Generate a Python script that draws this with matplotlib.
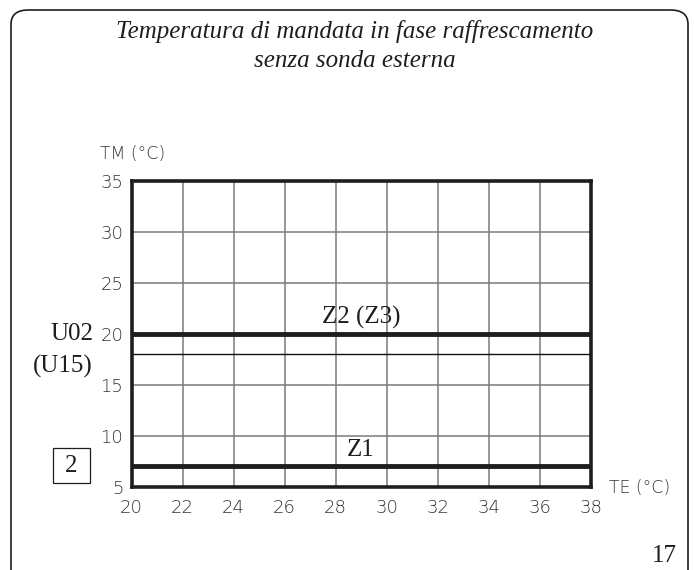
import matplotlib.pyplot as plt
from matplotlib.patches import FancyBboxPatch, Rectangle

# data
te_ticks = [20, 22, 24, 26, 28, 30, 32, 34, 36, 38]
tm_ticks = [5, 10, 15, 20, 25, 30, 35]
te_range = [20, 38]
z1_tm = [7, 7]
z2_tm = [20, 20]
ref_line_tm = 18

serif = 'Liberation Serif'
sans = 'DejaVu Sans'
tick_color = '#333333'
ink = '#1e1e1e'

fig = plt.figure(figsize=(6.94, 5.70), dpi=100)

# page frame with rounded corners (bottom runs off the page)
frame = FancyBboxPatch((11 / 694, -0.05), (688 - 11) / 694, 1 - 10 / 570 + 0.05,
                       boxstyle='round,pad=0,rounding_size=0.025',
                       transform=fig.transFigure, fill=False, lw=1.2, ec=ink)
fig.add_artist(frame)

fig.text(0.511, 0.945, 'Temperatura di mandata in fase raffrescamento', ha='center', va='center',
         fontsize=18, family=serif, style='italic', color=ink)
fig.text(0.511, 0.893, 'senza sonda esterna', ha='center', va='center',
         fontsize=18, family=serif, style='italic', color=ink)

ax = fig.add_axes([131.5 / 694, 1 - 486.7 / 570, (590.7 - 131.5) / 694, (486.7 - 180.7) / 570])
ax.set_xlim(te_range)
ax.set_ylim(5, 35)
ax.set_xticks(te_ticks)
ax.set_yticks(tm_ticks)
ax.tick_params(axis='both', length=0, labelsize=13, labelcolor=tick_color)
ax.tick_params(axis='x', pad=9)
ax.tick_params(axis='y', pad=6)
for lab in ax.get_xticklabels() + ax.get_yticklabels():
    lab.set_fontweight('light')
    lab.set_family(sans)

# grid
for x in te_ticks[1:-1]:
    ax.axvline(x, color='#7a7a7a', lw=1.1, zorder=1)
for y in tm_ticks[1:-1]:
    ax.axhline(y, color='#7a7a7a', lw=1.1, zorder=1)
ax.axhline(ref_line_tm, color='#111111', lw=1.0, zorder=2)

ax.plot(te_range, z2_tm, color=ink, lw=3.5, solid_capstyle='butt', zorder=3)
ax.plot(te_range, z1_tm, color=ink, lw=3.5, solid_capstyle='butt', zorder=3)

for s in ax.spines.values():
    s.set_linewidth(2.6)
    s.set_color(ink)

ax.text(29, 20.5, 'Z2 (Z3)', ha='center', va='bottom', fontsize=18, family=serif, color=ink)
ax.text(29, 7.5, 'Z1', ha='center', va='bottom', fontsize=18, family=serif, color=ink)

fig.text(100 / 694, 1 - 154 / 570, 'TM (°C)', ha='left', va='center', fontsize=12.5,
         family=sans, fontweight='light', color=tick_color)
fig.text(609 / 694, 1 - 488 / 570, 'TE (°C)', ha='left', va='center', fontsize=12.5,
         family=sans, fontweight='light', color=tick_color)

fig.text(93 / 694, 1 - 334 / 570, 'U02', ha='right', va='center', fontsize=18, family=serif, color=ink)
fig.text(93 / 694, 1 - 366 / 570, '(U15)', ha='right', va='center', fontsize=18, family=serif, color=ink)

fig.add_artist(Rectangle((53 / 694, 1 - 483 / 570), 37 / 694, 35 / 570, transform=fig.transFigure,
                         fill=False, lw=0.9, ec=ink))
fig.text(71.5 / 694, 1 - 466 / 570, '2', ha='center', va='center', fontsize=18, family=serif, color=ink)

fig.text(677 / 694, 1 - 556 / 570, '17', ha='right', va='center', fontsize=18, family=serif, color=ink)

fig.savefig('out.png', dpi=100)
